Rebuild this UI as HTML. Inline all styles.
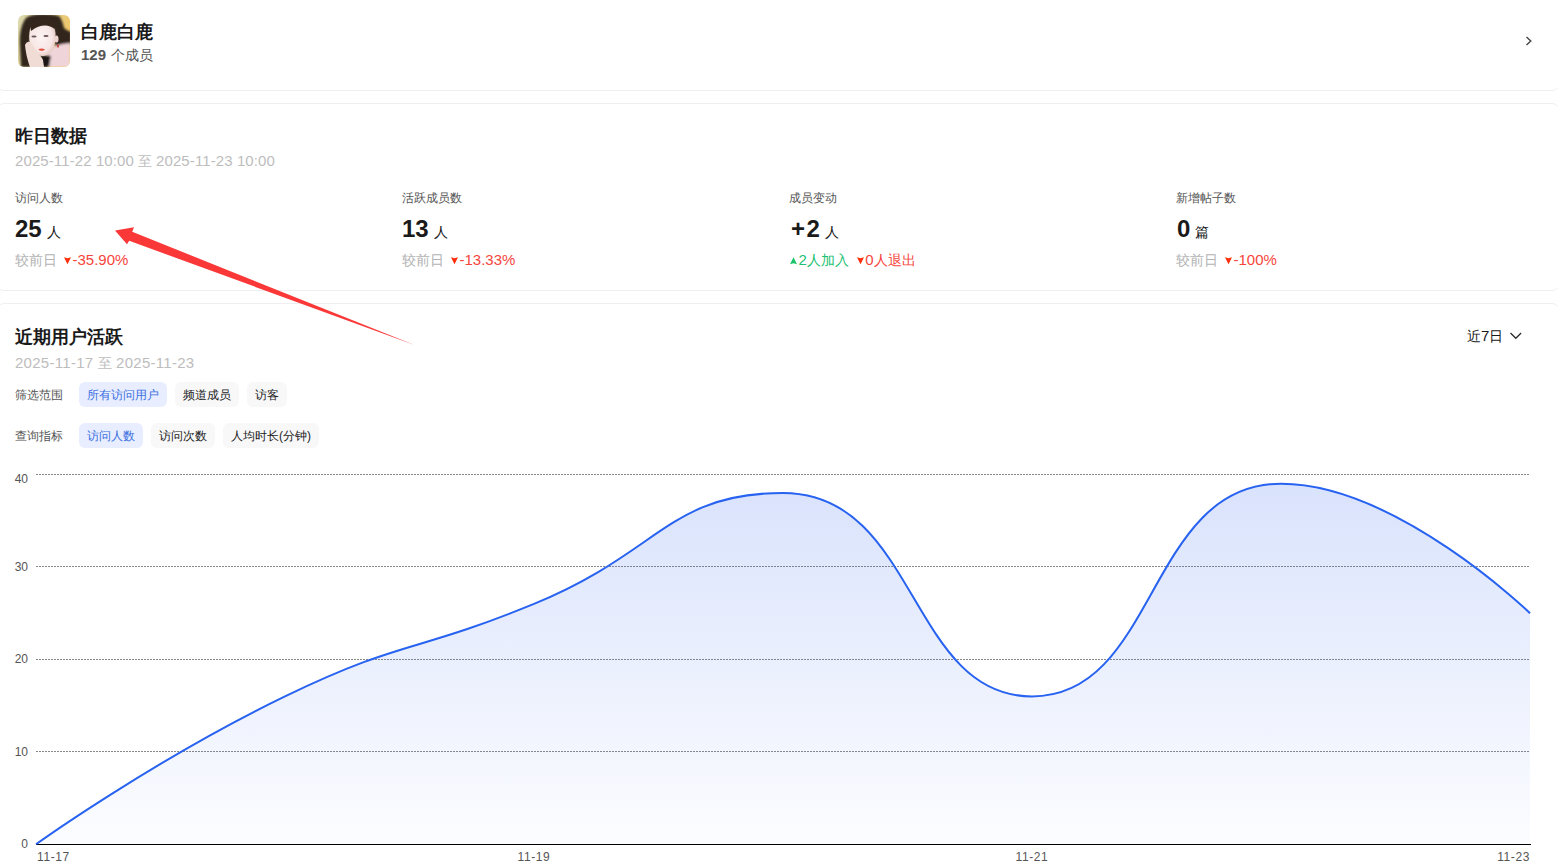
<!DOCTYPE html>
<html><head><meta charset="utf-8">
<style>
*{margin:0;padding:0;box-sizing:border-box}
html,body{width:1558px;height:866px;overflow:hidden;background:#fff}
body{font-family:"Liberation Sans",sans-serif;color:#1f1f1f;position:relative}
.a{position:absolute;white-space:nowrap;line-height:1}
.card{position:absolute;left:-4px;width:1564px;border:1px solid #efeff2;border-radius:8px;background:#fff}
.t{font-size:18px;font-weight:bold;color:#1a1a1a}
.d{font-size:14px;color:#bdbdbd}
.lb{font-size:12px;color:#555}
.num{font-size:24px;font-weight:bold;color:#1a1a1a}
.unit{font-size:14px;font-weight:normal;color:#1a1a1a}
.cmp{font-size:14px;color:#b3b3b3}
.red{color:#f5453b}
.grn{color:#1dbf73}
.chip{position:absolute;height:25px;line-height:26px;font-size:12px;padding:0 8px;border-radius:6px;background:#f8f8f9;color:#222;white-space:nowrap}
.chip.on{background:#e8eeff;color:#3b6fe0}
.ax{font-size:12px;color:#555}
.L{font-size:15px}
.xl{letter-spacing:0.6px}
.ml{margin-left:7px}
.tri{display:inline-block;vertical-align:0px;margin-right:1.5px}
.unit{margin-left:5px}
</style></head><body>
<div class="card" style="top:-20px;height:111px"></div>
<div class="card" style="top:103px;height:188px"></div>
<div class="card" style="top:303px;height:600px"></div>

<!-- header -->
<svg class="a" style="left:18px;top:15px" width="52" height="52" viewBox="0 0 52 52">
<defs><clipPath id="av"><rect width="52" height="52" rx="6"/></clipPath>
<filter id="bl" x="-20%" y="-20%" width="140%" height="140%"><feGaussianBlur stdDeviation="0.9"/></filter>
<filter id="bl2"><feGaussianBlur stdDeviation="0.45"/></filter>
<linearGradient id="abg" x1="0" y1="0" x2="1" y2="0.3"><stop offset="0" stop-color="#ddd9b0"/><stop offset="0.6" stop-color="#e3cf8c"/><stop offset="1" stop-color="#f0c768"/></linearGradient>
<radialGradient id="face" cx="0.45" cy="0.45" r="0.6"><stop offset="0" stop-color="#fdf4f3"/><stop offset="0.7" stop-color="#f6e6e4"/><stop offset="1" stop-color="#e2c4c2"/></radialGradient>
</defs>
<g clip-path="url(#av)">
<rect width="52" height="52" fill="url(#abg)"/>
<g filter="url(#bl)">
<path d="M3 52 L2 32 C1 20 3 9 8 3 C14 -2 32 -2 41 1 C44 4 45 9 46 13 C48 15 51 16 53 17 L53 30 L37 31 L36 14 L14 14 C11 22 12 34 13 52 Z" fill="#33261f"/>
<path d="M28 52 L29 38 C34 31 42 29 52 28 L52 52Z" fill="#efd5d9"/>
<path d="M18 52 L21 41 C25 40 30 40 33 41 L31 52Z" fill="#1b1517"/>
</g>
<g filter="url(#bl2)">
<path d="M12 14 C14 8 20 7 27 7.5 C34 8 37.5 12 37.5 20 C37.5 30 35 37 29 40 C25 42 20 41 16 37 C12 32 10 24 12 14Z" fill="url(#face)"/>
<path d="M12 10 C17 3 29 2 35 6 C37 9 37 12 36.5 14 C31 9 22 9 13 16 Z" fill="#35281f"/>
<path d="M7 30 C9 26 12 26 14 29 L19 37 C21 40 24 42 25 45 L26 52 L12 52 C10 46 8 40 7 30Z" fill="#f1dbd5"/>
<ellipse cx="16" cy="21.5" rx="2.6" ry="1.1" fill="#6a5456"/>
<ellipse cx="28" cy="21" rx="2.6" ry="1.1" fill="#6a5456"/>
<path d="M20.5 34.2 C22 33.4 25 33.4 26.8 34.2 C26 36.3 21.5 36.4 20.5 34.2Z" fill="#e3503f"/>
<ellipse cx="38.5" cy="24" rx="2" ry="3.5" fill="#ecd3cf"/>
<ellipse cx="40" cy="31" rx="1" ry="1.8" fill="#c8463a"/>
</g>
</g></svg>
<div class="a" style="left:81px;top:23px;font-size:18px;font-weight:bold;color:#1a1a1a">白鹿白鹿</div>
<div class="a" style="left:81px;top:47px;font-size:14px;color:#555"><b style="font-size:15px">129</b><span style="margin-left:5px">个成员</span></div>
<svg class="a" style="left:1525px;top:36px" width="8" height="11" viewBox="0 0 8 11"><path d="M1.5 1 L5.8 5 L1.5 9" fill="none" stroke="#444" stroke-width="1.4"/></svg>

<!-- yesterday -->
<div class="a t" style="left:15px;top:127px">昨日数据</div>
<div class="a d" style="left:15px;top:153px;letter-spacing:0.1px"><span class="L">2025-11-22 10:00</span> 至 <span class="L">2025-11-23 10:00</span></div>

<div class="a lb" style="left:15px;top:192px">访问人数</div>
<div class="a num" style="left:15px;top:217px">25<span class="unit">人</span></div>
<div class="a cmp" style="left:15px;top:252px">较前日<span class="red ml"><svg class="tri" width="7" height="8" viewBox="0 0 7 8"><path d="M0 0.3 L3.5 1.3 L7 0.3 L3.5 7.3Z" fill="#ff2d0a"/></svg><span class="L">-35.90%</span></span></div>

<div class="a lb" style="left:402px;top:192px">活跃成员数</div>
<div class="a num" style="left:402px;top:217px">13<span class="unit">人</span></div>
<div class="a cmp" style="left:402px;top:252px">较前日<span class="red ml"><svg class="tri" width="7" height="8" viewBox="0 0 7 8"><path d="M0 0.3 L3.5 1.3 L7 0.3 L3.5 7.3Z" fill="#ff2d0a"/></svg><span class="L">-13.33%</span></span></div>

<div class="a lb" style="left:789px;top:192px">成员变动</div>
<div class="a num" style="left:791px;top:217px;letter-spacing:1.5px">+2<span class="unit" style="letter-spacing:0;margin-left:3.5px">人</span></div>
<div class="a cmp" style="left:790px;top:252px"><span class="grn"><svg class="tri" width="7" height="8" viewBox="0 0 7 8"><path d="M0 7.3 L3.5 6.3 L7 7.3 L3.5 0.3Z" fill="#18c468"/></svg><span class="L">2</span>人加入</span><span class="red" style="margin-left:8px"><svg class="tri" width="7" height="8" viewBox="0 0 7 8"><path d="M0 0.3 L3.5 1.3 L7 0.3 L3.5 7.3Z" fill="#ff2d0a"/></svg><span class="L">0</span>人退出</span></div>

<div class="a lb" style="left:1176px;top:192px">新增帖子数</div>
<div class="a num" style="left:1177px;top:217px">0<span class="unit">篇</span></div>
<div class="a cmp" style="left:1176px;top:252px">较前日<span class="red ml"><svg class="tri" width="7" height="8" viewBox="0 0 7 8"><path d="M0 0.3 L3.5 1.3 L7 0.3 L3.5 7.3Z" fill="#ff2d0a"/></svg><span class="L">-100%</span></span></div>

<!-- recent -->
<div class="a t" style="left:15px;top:328px">近期用户活跃</div>
<div class="a d" style="left:15px;top:355px;letter-spacing:0.28px"><span class="L">2025-11-17</span> 至 <span class="L">2025-11-23</span></div>
<div class="a" style="left:1467px;top:328px;font-size:14px;color:#1a1a1a">近<span class="L">7</span>日</div>
<svg class="a" style="left:1509px;top:332px" width="14" height="9" viewBox="0 0 14 9"><path d="M1.5 1 L6.8 6.3 L12.1 1" fill="none" stroke="#2a2a2a" stroke-width="1.25"/></svg>

<div class="a lb" style="left:15px;top:389px">筛选范围</div>
<div class="chip on" style="left:79px;top:382px">所有访问用户</div>
<div class="chip" style="left:175px;top:382px">频道成员</div>
<div class="chip" style="left:247px;top:382px">访客</div>

<div class="a lb" style="left:15px;top:430px">查询指标</div>
<div class="chip on" style="left:79px;top:423px">访问人数</div>
<div class="chip" style="left:151px;top:423px">访问次数</div>
<div class="chip" style="left:223px;top:423px">人均时长(分钟)</div>

<!-- chart -->
<svg class="a" style="left:0;top:0" width="1558" height="866">
<defs><linearGradient id="gf" x1="0" y1="483" x2="0" y2="844" gradientUnits="userSpaceOnUse">
<stop offset="0" stop-color="#2f62f0" stop-opacity="0.18"/>
<stop offset="1" stop-color="#2f62f0" stop-opacity="0.015"/>
</linearGradient></defs>
<g stroke="#888" stroke-width="1" stroke-dasharray="2 1">
<line x1="36" x2="1530" y1="474.5" y2="474.5"/>
<line x1="36" x2="1530" y1="566.5" y2="566.5"/>
<line x1="36" x2="1530" y1="659.5" y2="659.5"/>
<line x1="36" x2="1530" y1="751.5" y2="751.5"/>
</g>
<path d="M36.00 844.30 C36.00 844.30 155.12 759.07 285.00 696.38 C404.12 638.89 411.12 654.12 534.00 603.93 C660.12 552.42 668.75 492.99 783.00 492.99 C917.75 492.99 908.64 696.38 1032.00 696.38 C1157.64 696.38 1146.92 483.75 1281.00 483.75 C1395.92 483.75 1530.00 613.17 1530.00 613.17 L1530 844.3 L36 844.3Z" fill="url(#gf)"/>
<line x1="36" x2="1531" y1="844.5" y2="844.5" stroke="#000" stroke-width="1.1"/>
<path d="M36.00 844.30 C36.00 844.30 155.12 759.07 285.00 696.38 C404.12 638.89 411.12 654.12 534.00 603.93 C660.12 552.42 668.75 492.99 783.00 492.99 C917.75 492.99 908.64 696.38 1032.00 696.38 C1157.64 696.38 1146.92 483.75 1281.00 483.75 C1395.92 483.75 1530.00 613.17 1530.00 613.17" fill="none" stroke="#2762f0" stroke-width="2"/>
</svg>
<div class="a ax" style="right:1530px;top:473px">40</div>
<div class="a ax" style="right:1530px;top:561px">30</div>
<div class="a ax" style="right:1530px;top:653px">20</div>
<div class="a ax" style="right:1530px;top:746px">10</div>
<div class="a ax" style="right:1530px;top:838px">0</div>
<div class="a ax xl" style="left:37px;top:851px">11-17</div>
<div class="a ax xl" style="left:534px;top:851px;transform:translateX(-50%)">11-19</div>
<div class="a ax xl" style="left:1032px;top:851px;transform:translateX(-50%)">11-21</div>
<div class="a ax xl" style="right:28px;top:851px">11-23</div>

<!-- annotation arrow -->
<svg class="a" style="left:0;top:0" width="1558" height="866">
<path d="M115 230.4 L134 227.2 L132.2 231.8 L414.5 345 L129.2 240.8 L127 244.2 Z" fill="#fa3838"/>
</svg>
</body></html>
